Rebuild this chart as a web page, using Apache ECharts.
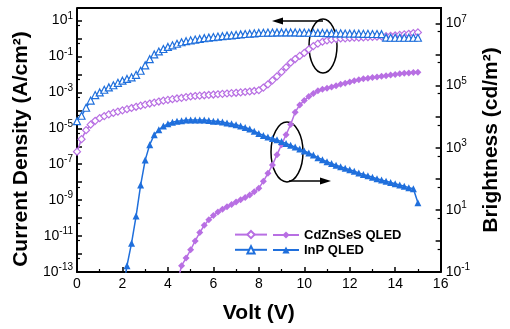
<!DOCTYPE html>
<html>
<head>
<meta charset="utf-8">
<script src="https://cdn.jsdelivr.net/npm/echarts@6/dist/echarts.min.js"></script>
<style>
  html, body { margin: 0; padding: 0; background: #fff; }
  #chart { width: 510px; height: 329px; }
</style>
</head>
<body>
<div id="chart"></div>
<script>
// bias voltage (V)
const volts = [0, 0.2, 0.4, 0.6, 0.8, 1.0, 1.2, 1.4, 1.6, 1.8, 2.0, 2.2, 2.4, 2.6, 2.8, 3.0, 3.2, 3.4, 3.6, 3.8,
  4.0, 4.2, 4.4, 4.6, 4.8, 5.0, 5.2, 5.4, 5.6, 5.8, 6.0, 6.2, 6.4, 6.6, 6.8, 7.0, 7.2, 7.4, 7.6, 7.8,
  8.0, 8.2, 8.4, 8.6, 8.8, 9.0, 9.2, 9.4, 9.6, 9.8, 10.0, 10.2, 10.4, 10.6, 10.8, 11.0, 11.2, 11.4, 11.6, 11.8,
  12.0, 12.2, 12.4, 12.6, 12.8, 13.0, 13.2, 13.4, 13.6, 13.8, 14.0, 14.2, 14.4, 14.6, 14.8, 15.0];

// current density (A/cm2), left axis
const cdJ = [5.0e-7, 2.5e-6, 7.9e-6, 1.6e-5, 2.6e-5, 3.7e-5, 4.8e-5, 6.0e-5, 7.2e-5, 8.5e-5,
  1.0e-4, 1.17e-4, 1.35e-4, 1.58e-4, 1.82e-4, 2.1e-4, 2.4e-4, 2.7e-4, 3.1e-4, 3.5e-4,
  3.8e-4, 4.2e-4, 4.6e-4, 5.0e-4, 5.5e-4, 5.9e-4, 6.3e-4, 6.6e-4, 6.9e-4, 7.2e-4,
  7.6e-4, 7.9e-4, 8.3e-4, 8.7e-4, 9.1e-4, 9.5e-4, 1.0e-3, 1.05e-3, 1.12e-3, 1.2e-3,
  1.32e-3, 1.86e-3, 2.8e-3, 4.7e-3, 7.8e-3, 1.38e-2, 2.5e-2, 4.5e-2, 7.2e-2, 0.107,
  0.158, 0.25, 0.38, 0.52, 0.66, 0.78, 0.87, 0.95, 1.0, 1.02,
  1.07, 1.1, 1.12, 1.15, 1.2, 1.23, 1.26, 1.32, 1.35, 1.41,
  1.48, 1.58, 1.7, 1.82, 2.0, 2.19];
const inpJ = [2.5e-5, 5.0e-5, 1.4e-4, 3.5e-4, 7.1e-4, 1.0e-3, 1.4e-3, 1.9e-3, 2.5e-3, 3.4e-3,
  4.5e-3, 5.6e-3, 6.9e-3, 9.5e-3, 1.6e-2, 3.2e-2, 7.1e-2, 0.13, 0.19, 0.26,
  0.34, 0.42, 0.51, 0.62, 0.71, 0.79, 0.87, 0.95, 1.05, 1.12,
  1.2, 1.29, 1.35, 1.45, 1.51, 1.58, 1.7, 1.78, 1.86, 1.95,
  2.04, 2.09, 2.14, 2.14, 2.19, 2.19, 2.19, 2.19, 2.19, 2.14,
  2.14, 2.09, 2.09, 2.04, 2.04, 2.0, 2.0, 1.95, 1.95, 1.9,
  1.9, 1.86, 1.86, 1.82, 1.82, 1.78, 1.78, 1.74, 1.12, 1.1,
  1.1, 1.1, 1.1, 1.1, 1.1, 1.1];

// brightness (cd/m2), right axis
const cdL = [null, null, null, null, null, null, null, null, null, null,
  null, null, null, null, null, null, null, null, null, null,
  null, null, 0.04, 0.16, 0.28, 0.52, 1.0, 1.86, 3.2, 4.8,
  6.6, 8.5, 10.5, 12.6, 15, 18, 21, 25, 30, 38,
  50, 83, 150, 280, 600, 1260, 2630, 5600, 14000, 24000,
  33000, 45000, 56000, 68000, 76000, 83000, 91000, 100000, 110000, 120000,
  132000, 145000, 155000, 166000, 174000, 182000, 190000, 200000, 209000, 219000,
  229000, 240000, 251000, 257000, 263000, 269000];
const inpL = [null, null, null, null, null, null, null, null, null, null,
  0.02, 0.16, 0.85, 6.3, 63, 400, 1260, 2630, 3800, 5000,
  5900, 6600, 7100, 7400, 7800, 7900, 7900, 7900, 7800, 7600,
  7200, 7100, 6800, 6300, 5900, 5500, 5000, 4500, 4000, 3400,
  2900, 2500, 2200, 2000, 1800, 1580, 1380, 1200, 1050, 910,
  790, 680, 580, 480, 410, 355, 310, 275, 245, 220,
  195, 175, 155, 138, 126, 112, 100, 91, 83, 76,
  69, 63, 58, 52, 48, 17];

const purple = '#b86fe3';
const blue = '#1f6fdc';

function pairs(ys) {
  return volts.map((v, i) => [v, ys[i]]);
}

// label only the odd decades (10^-13 ... 10^1, 10^-1 ... 10^7)
function decadeLabel(v) {
  const lg = Math.log10(v);
  const e = Math.round(lg);
  if (Math.abs(lg - e) > 0.01 || Math.abs(e) % 2 !== 1) return '';
  return '{b|10}{s|' + e + '}';
}

const labelRich = {
  b: { fontSize: 14, fontFamily: 'Liberation Sans', color: '#000' },
  s: { fontSize: 10, fontFamily: 'Liberation Sans', color: '#000', padding: [0, 0, 9, 0] }
};
const titleFont = { fontSize: 21, fontWeight: 'bold', fontFamily: 'Liberation Sans', color: '#000' };

const chart = echarts.init(document.getElementById('chart'));
chart.setOption({
  animation: false,
  grid: { left: 77, right: 68, top: 8, bottom: 53 },
  legend: [{
    orient: 'vertical',
    left: 229,
    top: 225,
    itemWidth: 32,
    itemHeight: 9,
    itemGap: 6,
    data: ['CdZnSeS J', 'InP J'],
    formatter: () => '',
    textStyle: { fontSize: 13 }
  }, {
    orient: 'vertical',
    left: 267,
    top: 223,
    itemWidth: 26,
    itemHeight: 9,
    itemGap: 1,
    data: ['CdZnSeS QLED', 'InP QLED'],
    textStyle: { fontSize: 13, lineHeight: 14, fontWeight: 'bold', fontFamily: 'Liberation Sans', color: '#000' }
  }],
  xAxis: {
    type: 'value',
    min: 0,
    max: 16,
    interval: 2,
    name: 'Volt (V)',
    nameLocation: 'middle',
    nameGap: 31,
    nameTextStyle: titleFont,
    axisLine: { onZero: false, lineStyle: { color: '#000', width: 2 } },
    axisTick: { inside: true, length: 5, lineStyle: { width: 1.5 } },
    minorTick: { show: true, splitNumber: 2, length: 3, lineStyle: { color: '#000', width: 1.2 } },
    axisLabel: { fontSize: 14, fontFamily: 'Liberation Sans', color: '#000', margin: 5 },
    splitLine: { show: false }
  },
  yAxis: [{
    type: 'log',
    min: 1e-13,
    max: 50,
    interval: 1,
    name: 'Current Density (A/cm²)',
    nameLocation: 'middle',
    nameGap: 37,
    nameTextStyle: Object.assign({ padding: [0, 18, 0, 0] }, titleFont),
    axisLine: { show: true, lineStyle: { color: '#000', width: 2 } },
    axisTick: { inside: true, length: 5, lineStyle: { width: 1.5 } },
    minorTick: { show: true, splitNumber: 2, length: 3, lineStyle: { color: '#000', width: 1.2 } },
    axisLabel: { formatter: decadeLabel, rich: labelRich, margin: 4, showMaxLabel: false },
    splitLine: { show: false }
  }, {
    type: 'log',
    min: 0.1,
    max: 3.16e7,
    interval: 1,
    name: 'Brightness (cd/m²)',
    nameLocation: 'middle',
    nameGap: 36,
    nameTextStyle: Object.assign({ padding: [0, 0, 26, 0] }, titleFont),
    axisLine: { show: true, lineStyle: { color: '#000', width: 2 } },
    axisTick: { inside: true, length: 5, lineStyle: { width: 1.5 } },
    minorTick: { show: true, splitNumber: 2, length: 3, lineStyle: { color: '#000', width: 1.2 } },
    axisLabel: { formatter: decadeLabel, rich: labelRich, margin: 5, showMaxLabel: false },
    splitLine: { show: false }
  }],
  series: [{
    name: 'CdZnSeS J',
    type: 'line',
    yAxisIndex: 0,
    data: pairs(cdJ),
    symbol: 'diamond',
    symbolSize: 7,
    showAllSymbol: true,
    itemStyle: { color: '#fff', borderColor: purple, borderWidth: 1.2 },
    lineStyle: { color: purple, width: 1.5 }
  }, {
    name: 'InP J',
    type: 'line',
    yAxisIndex: 0,
    data: pairs(inpJ),
    symbol: 'triangle',
    symbolSize: 7,
    showAllSymbol: true,
    itemStyle: { color: '#fff', borderColor: blue, borderWidth: 1.2 },
    lineStyle: { color: blue, width: 1.5 }
  }, {
    name: 'CdZnSeS QLED',
    type: 'line',
    yAxisIndex: 1,
    data: pairs(cdL),
    symbol: 'diamond',
    symbolSize: 7,
    showAllSymbol: true,
    itemStyle: { color: purple },
    lineStyle: { color: purple, width: 1.5 }
  }, {
    name: 'InP QLED',
    type: 'line',
    yAxisIndex: 1,
    data: pairs(inpL),
    symbol: 'triangle',
    symbolSize: 7,
    showAllSymbol: true,
    itemStyle: { color: blue },
    lineStyle: { color: blue, width: 1.5 }
  }],
  graphic: [
    { type: 'ellipse', shape: { cx: 323, cy: 46, rx: 14, ry: 27 }, style: { fill: 'none', stroke: '#000', lineWidth: 1.5 } },
    { type: 'line', shape: { x1: 323, y1: 21, x2: 280, y2: 21 }, style: { stroke: '#000', lineWidth: 1.5 } },
    { type: 'polygon', shape: { points: [[272, 21], [283, 17.5], [283, 24.5]] }, style: { fill: '#000' } },
    { type: 'ellipse', shape: { cx: 287, cy: 152, rx: 16, ry: 30 }, style: { fill: 'none', stroke: '#000', lineWidth: 1.5 } },
    { type: 'line', shape: { x1: 289, y1: 181, x2: 322, y2: 181 }, style: { stroke: '#000', lineWidth: 1.5 } },
    { type: 'polygon', shape: { points: [[331, 181], [320, 177.5], [320, 184.5]] }, style: { fill: '#000' } },
    { type: 'line', shape: { x1: 77, y1: 8, x2: 442, y2: 8 }, style: { stroke: '#000', lineWidth: 2 } }
  ]
});
</script>
</body>
</html>
